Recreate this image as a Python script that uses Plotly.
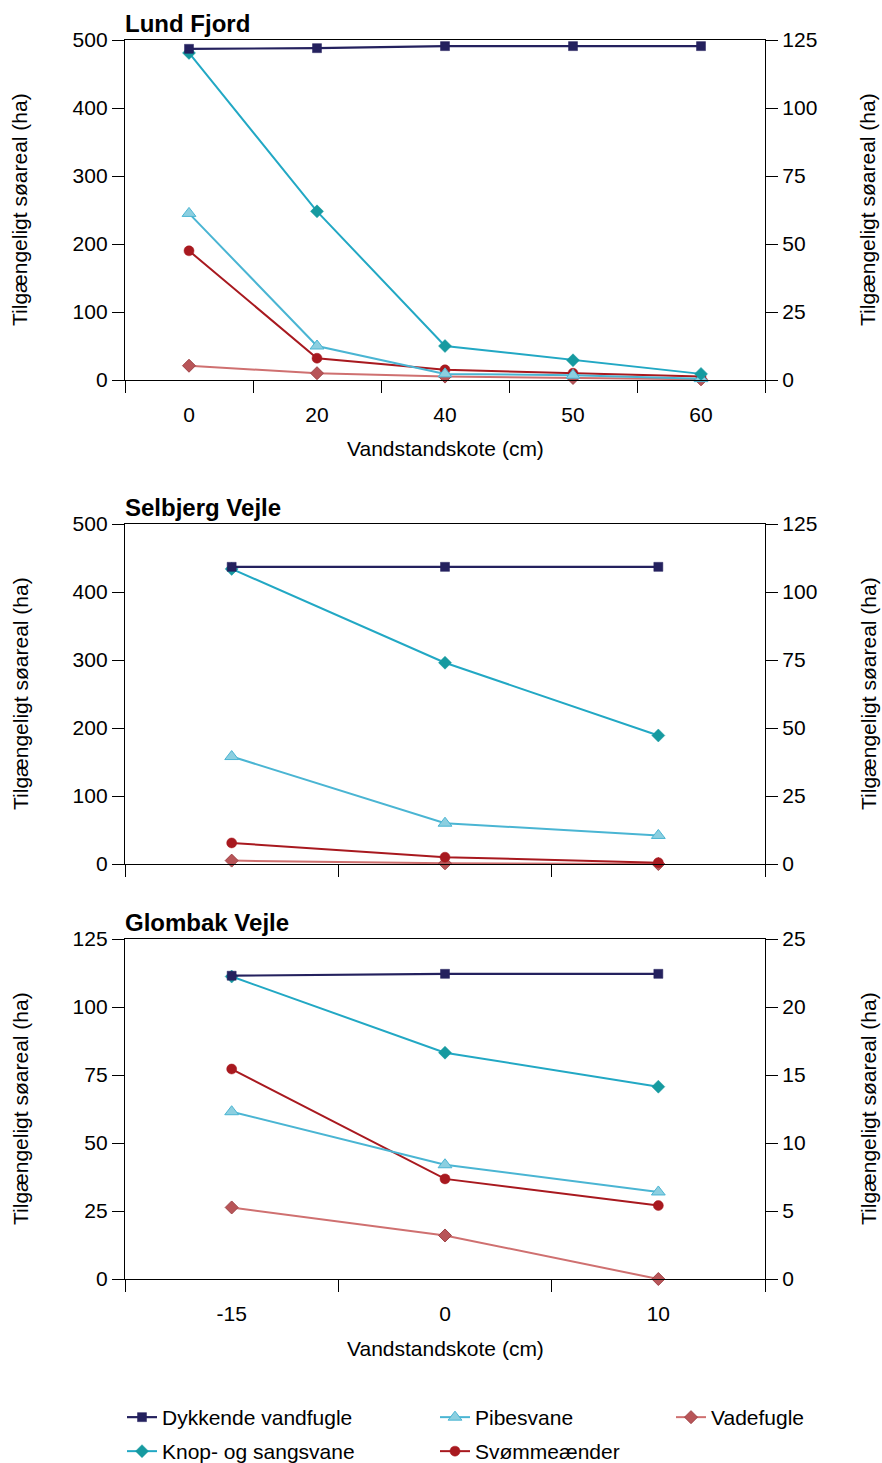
import plotly.graph_objects as go

# ---------------- data ----------------
cats_lund = ["0", "20", "40", "50", "60"]
cats_vejle = ["-15", "0", "10"]

series_names = ["Dykkende vandfugle", "Knop- og sangsvane", "Pibesvane", "Svømmeænder", "Vadefugle"]

# Lund Fjord (ha)
lund_dyk = [487, 488, 491, 491, 491]
lund_knop = [481, 248, 50, 29, 9]
lund_pibe = [245, 50, 9, 7, 2]
lund_svom = [190, 32, 15, 10, 5]
lund_vade = [21, 10, 5, 3, 1]

# Selbjerg Vejle (ha)
selb_dyk = [437, 437, 437]
selb_knop = [434, 296, 189]
selb_pibe = [158, 60, 42]
selb_svom = [31, 10, 2]
selb_vade = [5, 1, 0]

# Glombak Vejle (ha)
glom_dyk = [111.5, 112.2, 112.2]
glom_knop = [111.2, 83.2, 70.7]
glom_pibe = [61.5, 42, 32]
glom_svom = [77.2, 36.8, 27]
glom_vade = [26.3, 16, 0]

panel_titles = ["Lund Fjord", "Selbjerg Vejle", "Glombak Vejle"]
left_ranges = [[0, 500], [0, 500], [0, 125]]
left_dticks = [100, 100, 25]
right_ranges = [[0, 125], [0, 125], [0, 25]]
right_dticks = [25, 25, 5]
y_title = "Tilgængeligt søareal (ha)"
x_title = "Vandstandskote (cm)"

# ---------------- styles ----------------
FONT = "Liberation Sans, Arial, Helvetica, sans-serif"
FS = 21
W, H = 882, 1463
styles = {
    "Dykkende vandfugle": dict(line=dict(color="#24215e", width=2.2),
                               marker=dict(symbol="square", size=9, color="#24215e",
                                           line=dict(color="#24215e", width=0.5))),
    "Knop- og sangsvane": dict(line=dict(color="#22a8c4", width=2),
                               marker=dict(symbol="diamond", size=10, color="#169aa0",
                                           line=dict(color="#169aa0", width=0.5))),
    "Pibesvane": dict(line=dict(color="#4ab5d3", width=2),
                      marker=dict(symbol="triangle-up", size=12, color="#8ccfe0",
                                  line=dict(color="#4ab5d3", width=1))),
    "Svømmeænder": dict(line=dict(color="#a8191f", width=2),
                        marker=dict(symbol="circle", size=10, color="#a8191f",
                                    line=dict(color="#a8191f", width=0.5))),
    "Vadefugle": dict(line=dict(color="#cf7070", width=2),
                      marker=dict(symbol="diamond", size=10, color="#b85558",
                                  line=dict(color="#a04448", width=1))),
}
# one legend box per legend entry, placed on the reference's 3x2 grid
legend_of = {"Dykkende vandfugle": "legend", "Pibesvane": "legend2", "Vadefugle": "legend3",
             "Knop- og sangsvane": "legend4", "Svømmeænder": "legend5"}
legend_pos = {"legend": (122, 1397), "legend2": (435, 1397), "legend3": (671, 1397),
              "legend4": (122, 1431), "legend5": (435, 1431)}

panels = [
    (cats_lund, {"Dykkende vandfugle": lund_dyk, "Knop- og sangsvane": lund_knop,
                 "Pibesvane": lund_pibe, "Svømmeænder": lund_svom, "Vadefugle": lund_vade}),
    (cats_vejle, {"Dykkende vandfugle": selb_dyk, "Knop- og sangsvane": selb_knop,
                  "Pibesvane": selb_pibe, "Svømmeænder": selb_svom, "Vadefugle": selb_vade}),
    (cats_vejle, {"Dykkende vandfugle": glom_dyk, "Knop- og sangsvane": glom_knop,
                  "Pibesvane": glom_pibe, "Svømmeænder": glom_svom, "Vadefugle": glom_vade}),
]

# pixel geometry (top, bottom) of each plot area
px_rows = [(40, 380), (524, 864), (939, 1279)]
px_left, px_right = 125, 765
xdom = [px_left / W, px_right / W]

draw_order = ["Vadefugle", "Svømmeænder", "Pibesvane", "Knop- og sangsvane", "Dykkende vandfugle"]

fig = go.Figure()
layout = {}
annotations = []

for i, (cats, data) in enumerate(panels):
    n = i + 1
    xname = "x" if n == 1 else f"x{n}"
    yl = 2 * n - 1
    yr = 2 * n
    ylname = "y" if yl == 1 else f"y{yl}"
    yrname = f"y{yr}"
    top, bot = px_rows[i]
    ydom = [1 - bot / H, 1 - top / H]

    for name in draw_order:
        st = styles[name]
        fig.add_trace(go.Scatter(
            x=cats, y=data[name], name=name, mode="lines+markers",
            line=st["line"], marker=st["marker"], cliponaxis=False,
            xaxis=xname, yaxis=ylname,
            showlegend=(n == 1), legend=legend_of[name], legendgroup=name,
        ))
    # dummy trace for the right axis
    fig.add_trace(go.Scatter(x=[cats[0]], y=[None], xaxis=xname, yaxis=yrname,
                             showlegend=False, hoverinfo="skip", mode="lines"))

    axis_common = dict(showgrid=False, zeroline=False, showline=True, linecolor="black",
                       linewidth=1.3, ticks="outside", ticklen=12, tickwidth=1.3,
                       tickcolor="black", automargin=False,
                       tickfont=dict(family=FONT, size=FS, color="black"))

    layout["xaxis" if n == 1 else f"xaxis{n}"] = dict(
        axis_common, domain=xdom, anchor=ylname, type="category",
        categoryorder="array", categoryarray=cats, range=[-0.5, len(cats) - 0.5],
        tickson="boundaries", mirror=True, showticklabels=(n != 2),
        ticklabelstandoff=16, fixedrange=True)
    layout["yaxis" if yl == 1 else f"yaxis{yl}"] = dict(
        axis_common, domain=ydom, anchor=xname, range=left_ranges[i],
        dtick=left_dticks[i], tick0=0)
    layout[f"yaxis{yr}"] = dict(
        axis_common, anchor=xname, overlaying=ylname, side="right",
        range=right_ranges[i], dtick=right_dticks[i], tick0=0)

    # panel title
    annotations.append(dict(text=f"<b>{panel_titles[i]}</b>", xref="paper", yref="paper",
                            x=(px_left - 2) / W, y=1 - (top - 17) / H, xanchor="left", yanchor="middle",
                            showarrow=False, font=dict(family=FONT, size=24, color="black")))
    # y titles
    ymid = 1 - ((top + bot) / 2) / H
    annotations.append(dict(text=y_title, xref="paper", yref="paper", x=20 / W, y=ymid,
                            xanchor="center", yanchor="middle", textangle=-90, showarrow=False,
                            font=dict(family=FONT, size=FS, color="black")))
    annotations.append(dict(text=y_title, xref="paper", yref="paper", x=868 / W, y=ymid,
                            xanchor="center", yanchor="middle", textangle=-90, showarrow=False,
                            font=dict(family=FONT, size=FS, color="black")))
    if n != 2:
        annotations.append(dict(text=x_title, xref="paper", yref="paper", x=445 / W,
                                y=1 - (bot + 69) / H, xanchor="center", yanchor="middle",
                                showarrow=False, font=dict(family=FONT, size=FS, color="black")))

legend_common = dict(orientation="v", xanchor="left", yanchor="top", yref="paper",
                     bgcolor="rgba(0,0,0,0)", font=dict(family=FONT, size=FS, color="black"),
                     itemclick=False, itemdoubleclick=False)
for key, (lx, ly) in legend_pos.items():
    layout[key] = dict(legend_common, x=lx / W, y=1 - ly / H)

fig.update_layout(**layout)
fig.update_layout(
    width=W, height=H, margin=dict(l=0, r=0, t=0, b=0, autoexpand=False),
    plot_bgcolor="white", paper_bgcolor="white",
    annotations=annotations, showlegend=True,
    font=dict(family=FONT, color="black"),
)

fig.write_html("out.html")
